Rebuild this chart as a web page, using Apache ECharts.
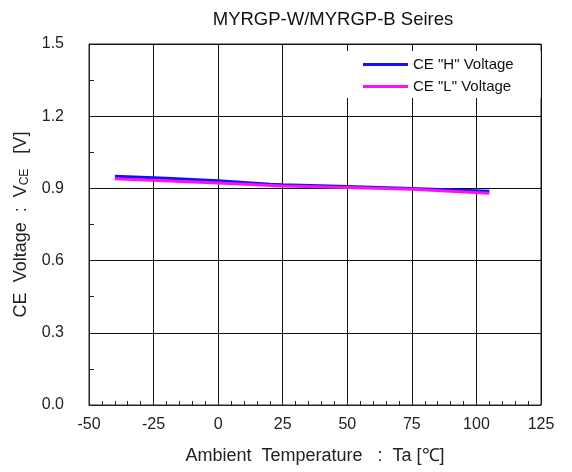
<!DOCTYPE html>
<html><head><meta charset="utf-8">
<script src="https://cdn.jsdelivr.net/npm/echarts@6/dist/echarts.min.js"></script>
<style>html,body{margin:0;padding:0;background:#fff}#c{width:572px;height:472px}</style>
</head><body><div id="c"></div>
<script>
const title = 'MYRGP-W/MYRGP-B Seires';
const seriesNames = ['CE "H" Voltage', 'CE "L" Voltage'];
const tempH = [-40, -20, 0, 20, 25, 50, 75, 105];
const voltH = [0.950, 0.942, 0.932, 0.917, 0.915, 0.908, 0.900, 0.888];
const tempL = [-40, 0, 25, 50, 75, 105];
const voltL = [0.940, 0.922, 0.910, 0.904, 0.896, 0.880];
const xTicks = [-50, -25, 0, 25, 50, 75, 100, 125];
const yTicks = [0.0, 0.3, 0.6, 0.9, 1.2, 1.5];
const xName = 'Ambient  Temperature   :  Ta [℃]';

const font = 'Liberation Sans, Arial, sans-serif';
const chart = echarts.init(document.getElementById('c'), null, {renderer: 'canvas'});
const pairs = (xs, ys) => xs.map((x, i) => [x, ys[i]]);
chart.setOption({
  animation: false,
  backgroundColor: '#fff',
  textStyle: {fontFamily: font},
  title: {text: title, left: 328, top: 5, textAlign: 'center',
    textStyle: {fontFamily: font, fontSize: 18.5, fontWeight: 'normal', color: '#111'}},
  grid: {left: 89, right: 31, top: 44, bottom: 67, show: true, borderColor: '#222', borderWidth: 1, containLabel: false},
  legend: {
    orient: 'vertical', left: 345, top: 51,
    backgroundColor: '#fff', padding: [6, 27, 4, 18],
    icon: 'rect', itemWidth: 45, itemHeight: 3, itemGap: 7,
    textStyle: {fontFamily: font, fontSize: 15, lineHeight: 14, color: '#111'},
    data: seriesNames
  },
  xAxis: {
    type: 'value', min: xTicks[0], max: xTicks[xTicks.length - 1], interval: 25,
    name: xName, nameLocation: 'middle', nameGap: 42,
    nameTextStyle: {fontFamily: font, fontSize: 18, color: '#222'},
    axisLine: {show: true, onZero: false, lineStyle: {color: '#222', width: 1}},
    axisTick: {show: true, inside: true, length: 5, lineStyle: {color: '#222'}},
    minorTick: {show: true, splitNumber: 5, length: 4, lineStyle: {color: '#222'}},
    axisLabel: {fontFamily: font, fontSize: 16, color: '#222', margin: 12},
    splitLine: {show: true, lineStyle: {color: '#111', width: 1}}
  },
  yAxis: {
    type: 'value', min: yTicks[0], max: yTicks[yTicks.length - 1], interval: 0.3,
    name: '{a|CE  Voltage  :  V}{s|CE}{a|   [V]}', nameLocation: 'middle', nameGap: 53, nameRotate: 90,
    nameTextStyle: {rich: {
      a: {fontFamily: font, fontSize: 18, color: '#222'},
      s: {fontFamily: font, fontSize: 12, color: '#222', padding: [7, 0, 0, 0]}
    }},
    axisLine: {show: true, onZero: false, lineStyle: {color: '#222', width: 1}},
    axisTick: {show: true, inside: true, length: 5, lineStyle: {color: '#222'}},
    minorTick: {show: true, splitNumber: 2, length: 5, lineStyle: {color: '#222'}},
    axisLabel: {fontFamily: font, fontSize: 16, color: '#222', margin: 25, formatter: v => v.toFixed(1)},
    splitLine: {show: true, lineStyle: {color: '#111', width: 1}}
  },
  series: [
    {name: seriesNames[0], type: 'line', data: pairs(tempH, voltH), symbol: 'none', z: 3,
      lineStyle: {color: '#1010ff', width: 3}, itemStyle: {color: '#1010ff'}},
    {name: seriesNames[1], type: 'line', data: pairs(tempL, voltL), symbol: 'none', z: 3,
      lineStyle: {color: '#ff10f0', width: 3}, itemStyle: {color: '#ff10f0'}}
  ]
});
</script></body></html>
